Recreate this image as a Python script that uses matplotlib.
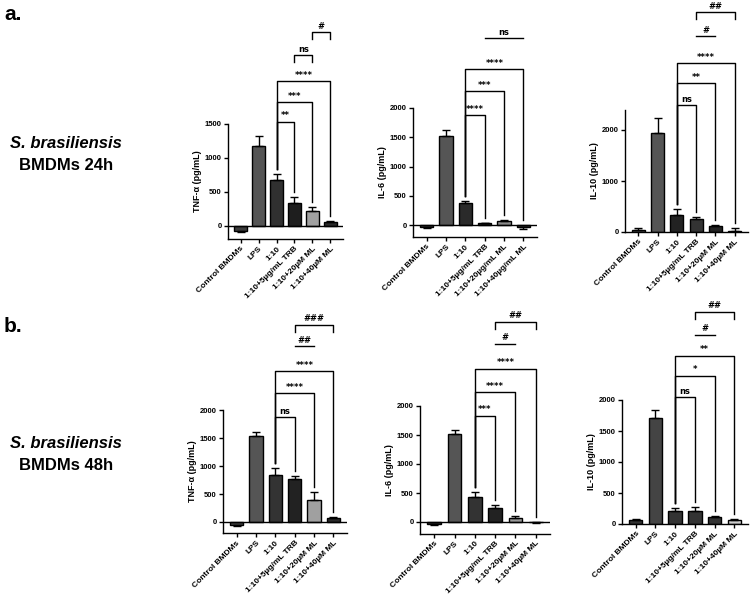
import matplotlib
matplotlib.use("Agg")
import matplotlib.pyplot as plt

plt.rcParams['font.family'] = ['Liberation Sans', 'DejaVu Sans']
plt.rcParams['font.weight'] = 'bold'

# categories
groups_um = ['Control BMDMs', 'LPS', '1:10', '1:10+5µg/mL TRB', '1:10+20µM ML', '1:10+40µM ML']
groups_ug = ['Control BMDMs', 'LPS', '1:10', '1:10+5µg/mL TRB', '1:10+20µg/mL ML', '1:10+40µg/mL ML']

# values (pg/mL), mean and SEM
tnf_24 = [-70, 1170, 675, 335, 222, 64]
tnf_24_err = [23, 160, 87, 88, 63, 15]
il6_24 = [-30, 1525, 373, 30, 70, -39]
il6_24_err = [15, 102, 39, 10, 10, 31]
il10_24 = [46, 1941, 327, 255, 111, 15]
il10_24_err = [32, 294, 117, 39, 33, 57]
tnf_48 = [-50, 1529, 839, 762, 393, 65]
tnf_48_err = [20, 71, 125, 53, 137, 18]
il6_48 = [-30, 1518, 425, 241, 63, -8]
il6_48_err = [15, 63, 92, 58, 35, 7]
il10_48 = [65, 1717, 216, 205, 108, 65]
il10_48_err = [21, 119, 43, 76, 16, 11]

# comparisons: (group i, group j, height, label, style)  b=bracket to bars, s=short bracket, l=line
comp_tnf_24 = [(2, 3, 1530, '**', 'b'), (2, 4, 1820, '***', 'b'), (2, 5, 2130, '****', 'b'),
               (3, 4, 2510, 'ns', 's'), (4, 5, 2850, '#', 's')]
comp_il6_24 = [(2, 3, 1880, '****', 'b'), (2, 4, 2290, '***', 'b'), (2, 5, 2660, '****', 'b'),
               (3, 5, 3190, 'ns', 'l')]
comp_il10_24 = [(2, 3, 2490, 'ns', 'b'), (2, 4, 2920, '**', 'b'), (2, 5, 3310, '****', 'b'),
                (3, 4, 3840, '#', 'l'), (3, 5, 4310, '##', 's')]
comp_tnf_48 = [(2, 3, 1870, 'ns', 'b'), (2, 4, 2300, '****', 'b'), (2, 5, 2690, '****', 'b'),
               (3, 4, 3135, '##', 'l'), (3, 5, 3520, '###', 's')]
comp_il6_48 = [(2, 3, 1830, '***', 'b'), (2, 4, 2240, '****', 'b'), (2, 5, 2640, '****', 'b'),
               (3, 4, 3070, '#', 'l'), (3, 5, 3450, '##', 's')]
comp_il10_48 = [(2, 3, 2045, 'ns', 'b'), (2, 4, 2390, '*', 'b'), (2, 5, 2710, '**', 'b'),
                (3, 4, 3050, '#', 'l'), (3, 5, 3420, '##', 's')]

colors_tnf_24 = ['#3c3c3c', '#555555', '#303030', '#1e1e1e', '#a0a0a0', '#2a2a2a']
colors_il6_24 = ['#3c3c3c', '#555555', '#2a2a2a', '#222222', '#8a8a8a', '#333333']
colors_il10_24 = ['#555555', '#555555', '#222222', '#333333', '#222222', '#bbbbbb']
colors_tnf_48 = ['#444444', '#555555', '#333333', '#222222', '#a0a0a0', '#2a2a2a']
colors_il6_48 = ['#333333', '#555555', '#333333', '#222222', '#999999', '#444444']
colors_il10_48 = ['#333333', '#444444', '#333333', '#333333', '#333333', '#cccccc']

W, H = 750, 609
fig = plt.figure(figsize=(W / 100, H / 100), dpi=100)


def panel(spine_x, right_x, px0, px_tick, v_tick, y_lo, spine_top, px_top,
          vals, errs, colors, groups, comps, ylabel, yticks):
    s = v_tick / (px0 - px_tick)            # data units per pixel
    px_lo = px0 - y_lo / s
    y_hi = (px0 - px_top) * s
    width_px = right_x - spine_x
    ax = fig.add_axes([spine_x / W, 1 - px_lo / H, width_px / W, (px_lo - px_top) / H])
    ax.set_ylim(y_lo, y_hi)
    ax.set_xlim(-0.7, 5.7)
    x = list(range(len(vals)))
    ax.bar(x, vals, width=0.68, color=colors, edgecolor='black', linewidth=1.0, zorder=2)
    for xi, v, e in zip(x, vals, errs):
        yerr = [[0], [e]] if v >= 0 else [[e], [0]]
        ax.errorbar([xi], [v], yerr=yerr, fmt='none', ecolor='black', elinewidth=1.0,
                    capsize=3, capthick=1.0, zorder=3)
    if y_lo < 0:
        ax.axhline(0, color='black', lw=1.0, zorder=4)
    for sp in ['top', 'right']:
        ax.spines[sp].set_visible(False)
    ax.spines['left'].set_bounds(y_lo, spine_top)
    ax.spines['left'].set_linewidth(1.0)
    ax.spines['bottom'].set_linewidth(1.0)
    ax.set_yticks(yticks)
    ax.set_yticklabels([str(t) for t in yticks], fontsize=5.5, fontweight='bold')
    ax.set_xticks(x)
    ax.set_xticklabels(groups, rotation=45, ha='right', rotation_mode='anchor',
                       fontsize=6, fontweight='bold')
    ax.tick_params(length=3, width=1.0, pad=1.5)
    ax.set_ylabel(ylabel, fontsize=6.5, fontweight='bold')
    mid = (y_lo + spine_top) / 2
    ax.yaxis.set_label_coords(-26 / width_px, (mid - y_lo) / (y_hi - y_lo))

    gap = 5 * s
    short = 7 * s
    for i, j, h, lab, style in comps:
        if style == 'l':
            ax.plot([i, j], [h, h], color='black', lw=1.0, clip_on=False)
        else:
            if style == 'b':
                bi = max(vals[i] + errs[i], 0) + gap
                bj = max(vals[j] + errs[j], 0) + gap
            else:
                bi = bj = h - short
            ax.plot([i, i, j, j], [bi, h, h, bj], color='black', lw=1.0, clip_on=False)
        ax.text((i + j) / 2, h + 1.5 * s, lab, ha='center', va='bottom', fontsize=6,
                fontweight='bold', family=['DejaVu Sans'], clip_on=False)
    return ax


panel(228, 343, 226, 124, 1500, -190, 1500, 0, tnf_24, tnf_24_err, colors_tnf_24,
      groups_um, comp_tnf_24, 'TNF-α (pg/mL)', [0, 500, 1000, 1500])
panel(413, 537, 225, 108, 2000, -200, 2000, 0, il6_24, il6_24_err, colors_il6_24,
      groups_ug, comp_il6_24, 'IL-6 (pg/mL)', [0, 500, 1000, 1500, 2000])
panel(625, 748, 232, 130, 2000, 0, 2400, 0, il10_24, il10_24_err, colors_il10_24,
      groups_um, comp_il10_24, 'IL-10 (pg/mL)', [0, 1000, 2000])
panel(223, 347, 522, 410, 2000, -200, 2000, 300, tnf_48, tnf_48_err, colors_tnf_48,
      groups_um, comp_tnf_48, 'TNF-α (pg/mL)', [0, 500, 1000, 1500, 2000])
panel(420, 550, 522, 406, 2000, -200, 2000, 300, il6_48, il6_48_err, colors_il6_48,
      groups_um, comp_il6_48, 'IL-6 (pg/mL)', [0, 500, 1000, 1500, 2000])
panel(622, 748, 524, 400, 2000, 0, 2000, 300, il10_48, il10_48_err, colors_il10_48,
      groups_um, comp_il10_48, 'IL-10 (pg/mL)', [0, 500, 1000, 1500, 2000])

# row labels
fig.text(4 / W, 1 - 15 / H, 'a.', fontsize=15, fontweight='bold', va='center')
fig.text(4 / W, 1 - 326 / H, 'b.', fontsize=15, fontweight='bold', va='center')
fig.text(66 / W, 1 - 143 / H, 'S. brasiliensis', fontsize=12, fontweight='bold',
         style='italic', ha='center', va='center')
fig.text(66 / W, 1 - 166 / H, 'BMDMs 24h', fontsize=12, fontweight='bold', ha='center', va='center')
fig.text(66 / W, 1 - 443 / H, 'S. brasiliensis', fontsize=12, fontweight='bold',
         style='italic', ha='center', va='center')
fig.text(66 / W, 1 - 466 / H, 'BMDMs 48h', fontsize=12, fontweight='bold', ha='center', va='center')

fig.savefig('out.png', dpi=100)
